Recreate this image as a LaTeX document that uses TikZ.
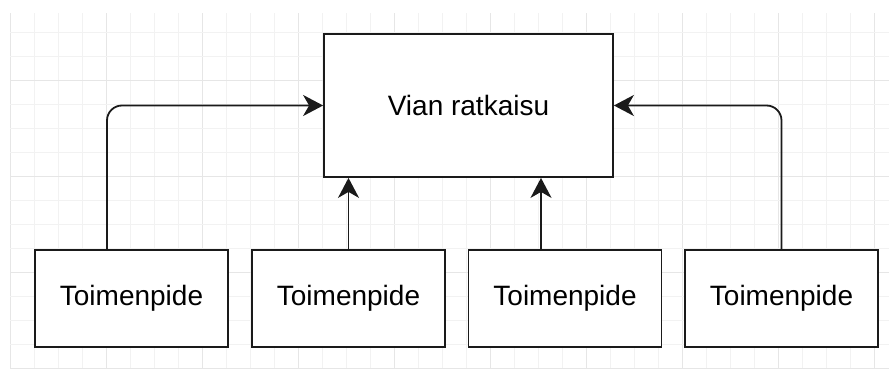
\documentclass[tikz,border=0pt]{standalone}
\usepackage{fontspec}
\setmainfont{Liberation Sans}
\usetikzlibrary{arrows.meta}
\definecolor{gridminor}{HTML}{F2F2F2}
\definecolor{gridmajor}{HTML}{E6E6E6}
\definecolor{linecol}{HTML}{1A1A1A}
\tikzset{
  box/.style={draw=linecol, line width=1.8pt, fill=white, inner sep=0pt,
    font=\fontsize{28}{33}\selectfont},
  bigbox/.style={box, minimum width=289pt, minimum height=143pt},
  smallbox/.style={box, minimum width=193pt, minimum height=97pt},
  link/.style={draw=linecol, line width=1.8pt, rounded corners=15pt,
    -{Stealth[length=20pt,width=21pt,inset=6pt]}}
}
\begin{document}
\begin{tikzpicture}[x=1pt,y=-1pt]
  \useasboundingbox (0,0) rectangle (889,372);
  % background grid
  \begin{scope}
    \clip (10,13) rectangle (889,368.6);
    \foreach \gx in {0,...,36} {
      \pgfmathtruncatemacro{\major}{mod(\gx,4)==0 ? 1 : 0}
      \ifnum\major=1
        \draw[gridmajor, line width=1pt] (10+24*\gx,13) -- (10+24*\gx,369);
      \else
        \draw[gridminor, line width=1pt] (10+24*\gx,13) -- (10+24*\gx,369);
      \fi
    }
    \foreach \gy in {0,...,14} {
      \pgfmathtruncatemacro{\major}{mod(\gy,4)==2 ? 1 : 0}
      \ifnum\major=1
        \draw[gridmajor, line width=1pt] (10,32+24*\gy) -- (889,32+24*\gy);
      \else
        \draw[gridminor, line width=1pt] (10,32+24*\gy) -- (889,32+24*\gy);
      \fi
    }
  \end{scope}

  % nodes
  \node[bigbox] (main) at (468.5,105.5) {Vian ratkaisu};
  \node[smallbox] (t1) at (131.5,298.5) {Toimenpide};
  \node[smallbox] (t2) at (348.5,298.5) {Toimenpide};
  \node[smallbox] (t3) at (565,298.5) {Toimenpide};
  \node[smallbox] (t4) at (781.5,298.5) {Toimenpide};

  % connectors
  \draw[link] ([xshift=-24.5pt]t1.north) |- (main.west);
  \draw[link] (t2.north) -- (t2.north |- main.south);
  \draw[link] ([xshift=-24pt]t3.north) -- ([xshift=-24pt]t3.north |- main.south);
  \draw[link] (t4.north) |- (main.east);
\end{tikzpicture}
\end{document}
